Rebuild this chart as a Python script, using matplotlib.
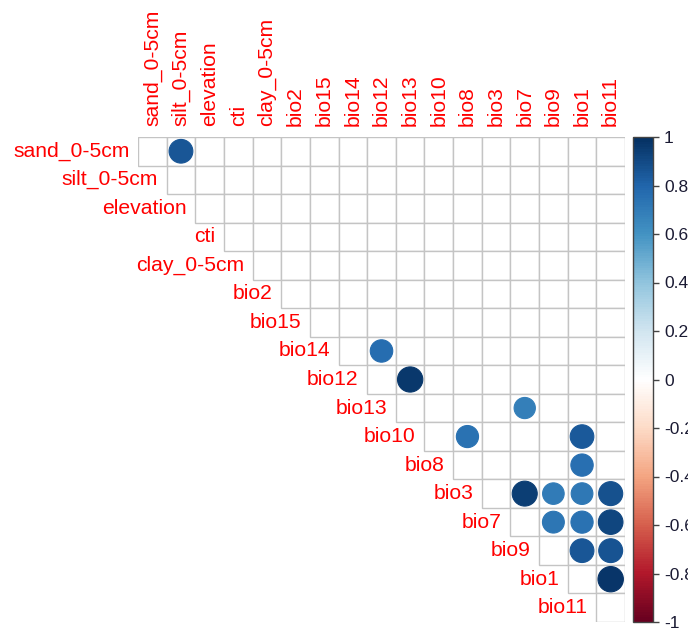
import numpy as np
import matplotlib
matplotlib.use("Agg")
import matplotlib.pyplot as plt
from matplotlib.colors import LinearSegmentedColormap, Normalize
from matplotlib.patches import Rectangle, Circle
from matplotlib.cm import ScalarMappable

plt.rcParams['font.family'] = ['Liberation Sans', 'DejaVu Sans']

variables = ["sand_0-5cm", "silt_0-5cm", "elevation", "cti", "clay_0-5cm",
             "bio2", "bio15", "bio14", "bio12", "bio13", "bio10", "bio8",
             "bio3", "bio7", "bio9", "bio1", "bio11"]

# significant correlations (others left blank)
pair_rows = ["sand_0-5cm", "bio14", "bio12", "bio13", "bio10", "bio10", "bio8",
             "bio3", "bio3", "bio3", "bio3", "bio7", "bio7", "bio7",
             "bio9", "bio9", "bio1"]
pair_cols = ["silt_0-5cm", "bio12", "bio13", "bio7", "bio8", "bio1", "bio1",
             "bio7", "bio9", "bio1", "bio11", "bio9", "bio1", "bio11",
             "bio1", "bio11", "bio11"]
pair_values = [0.85, 0.76, 0.96, 0.68, 0.74, 0.84, 0.75,
               0.94, 0.70, 0.71, 0.87, 0.72, 0.74, 0.91,
               0.85, 0.86, 0.97]

n = len(variables)
corr = np.full((n, n), np.nan)
for r, c, v in zip(pair_rows, pair_cols, pair_values):
    corr[variables.index(r), variables.index(c)] = v

cmap = LinearSegmentedColormap.from_list(
    "rdbu_corr",
    ["#67001F", "#B2182B", "#D6604D", "#F4A582", "#FDDBC7", "#FFFFFF",
     "#D1E5F0", "#92C5DE", "#4393C3", "#2166AC", "#053061"], N=200)
norm = Normalize(-1, 1)

W, H = 688, 630
fig = plt.figure(figsize=(W / 100, H / 100), dpi=100)
gx0, gx1, gy0, gy1 = 138, 625, 137, 622
ax = fig.add_axes([gx0 / W, 1 - gy1 / H, (gx1 - gx0) / W, (gy1 - gy0) / H])
ax.set_xlim(0, n)
ax.set_ylim(n, 0)
ax.axis("off")

grid_col = "#c4c4c4"
for i in range(n):
    for j in range(i, n):
        ax.add_patch(Rectangle((j, i), 1, 1, facecolor="white",
                               edgecolor=grid_col, lw=1.0, zorder=1))

for i in range(n):
    for j in range(i, n):
        v = corr[i, j]
        if np.isnan(v):
            continue
        col = cmap(norm(v))
        rad = 0.9 * np.sqrt(abs(v)) / 2
        ax.add_patch(Circle((j + 0.5, i + 0.5), rad, facecolor=col,
                            edgecolor=col, lw=0.8, zorder=3))

label_color = "#FF0000"
for i, name in enumerate(variables):
    ax.text(i - 0.3, i + 0.5, name, ha="right", va="center",
            color=label_color, fontsize=15.2, clip_on=False)
    ax.text(i + 0.5, -0.4, name, ha="center", va="bottom", rotation=90,
            color=label_color, fontsize=15.2, clip_on=False)

# colour legend
cax = fig.add_axes([633 / W, 1 - gy1 / H, 20 / W, (gy1 - gy0) / H])
cb = fig.colorbar(ScalarMappable(norm=norm, cmap=cmap), cax=cax)
ticks = np.round(np.arange(-1, 1.01, 0.2), 1)
cb.set_ticks(ticks)
cb.set_ticklabels([("%g" % t) if abs(t) > 1e-9 else "0" for t in ticks])
cb.outline.set_edgecolor("#444444")
cb.outline.set_linewidth(1.0)
cax.tick_params(axis="y", length=4, width=1, color="#444444",
                labelsize=12.5, labelcolor="#1a1a33", pad=4)

fig.savefig("out.png", dpi=100)
